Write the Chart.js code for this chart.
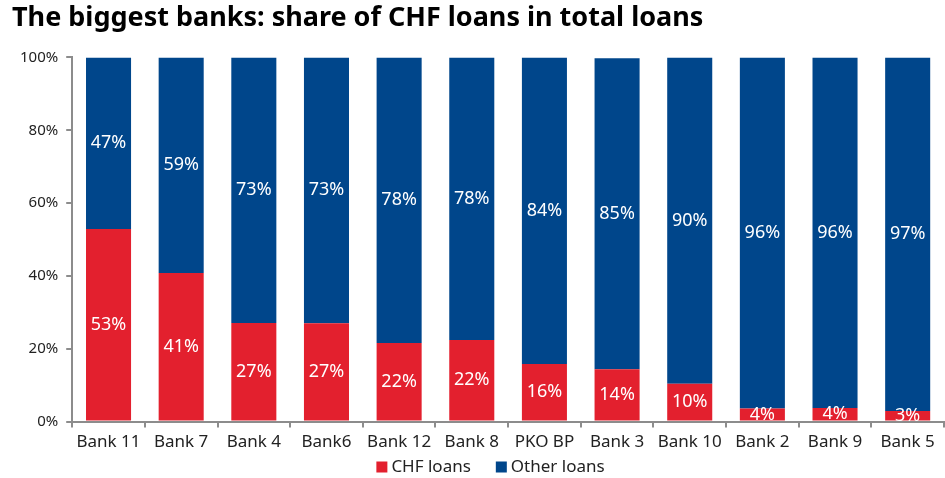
<!DOCTYPE html>
<html>
<head>
<meta charset="utf-8">
<script src="https://cdn.jsdelivr.net/npm/chart.js@4"></script>
<style>
  html, body { margin: 0; padding: 0; background: #fff; }
  #wrap { width: 945px; height: 478px; }
</style>
</head>
<body>
<div id="wrap"><canvas id="banks"></canvas></div>
<script>
// banks, sorted by CHF share (% of total loans)
const banks = ["Bank 11", "Bank 7", "Bank 4", "Bank6", "Bank 12", "Bank 8",
  "PKO BP", "Bank 3", "Bank 10", "Bank 2", "Bank 9", "Bank 5"];
const chfLoans = [52.9, 40.8, 27.1, 27.0, 21.6, 22.4, 15.8, 14.4, 10.4, 3.6, 3.7, 2.9];
const otherLoans = [47.1, 59.2, 72.9, 73.0, 78.4, 77.6, 84.2, 85.4, 89.6, 96.4, 96.3, 97.1];
const yTicks = [0, 20, 40, 60, 80, 100];

const RED = "#e3202e";
const BLUE = "#00468b";
const AXIS = "#8c8c8c";
const TEXT = "#222";
const FONT = "'Noto Sans', sans-serif";

// white rounded value in the middle of each segment
const segmentLabels = {
  id: "segmentLabels",
  afterDatasetsDraw(chart) {
    const ctx = chart.ctx;
    ctx.save();
    ctx.fillStyle = "#fff";
    ctx.font = "18px " + FONT;
    ctx.textAlign = "center";
    ctx.textBaseline = "middle";
    chart.data.datasets.forEach((ds, i) => {
      chart.getDatasetMeta(i).data.forEach((bar, j) => {
        const y = (bar.y + bar.base) / 2;
        ctx.fillText(Math.round(ds.data[j]) + "%", bar.x, y);
      });
    });
    ctx.restore();
  },
};

// legend row under the axis: small square, then the series name
const bottomLegend = {
  id: "bottomLegend",
  afterDraw(chart) {
    const ctx = chart.ctx;
    const box = 11, gap = 4, between = 25;
    ctx.save();
    ctx.font = "17px " + FONT;
    ctx.textBaseline = "middle";
    const items = chart.data.datasets.map((ds) => ({
      text: ds.label,
      color: ds.backgroundColor,
      w: ctx.measureText(ds.label).width,
    }));
    const total = items.reduce((s, it) => s + box + gap + it.w, 0) + between * (items.length - 1);
    let x = chart.width / 2 + 18 - total / 2;
    const y = 467;
    items.forEach((it) => {
      ctx.fillStyle = it.color;
      ctx.fillRect(x, y - box / 2, box, box);
      x += box + gap;
      ctx.fillStyle = TEXT;
      ctx.fillText(it.text, x, y);
      x += it.w + between;
    });
    ctx.restore();
  },
};

new Chart(document.getElementById("banks"), {
  type: "bar",
  data: {
    labels: banks,
    datasets: [
      { label: "CHF loans", data: chfLoans, backgroundColor: RED },
      { label: "Other loans", data: otherLoans, backgroundColor: BLUE },
    ],
  },
  options: {
    responsive: true,
    maintainAspectRatio: false,
    animation: false,
    datasets: { bar: { categoryPercentage: 1, barPercentage: 0.62 } },
    layout: { padding: { left: 12, right: 1, top: 2, bottom: 22 } },
    plugins: {
      title: {
        display: true,
        text: "The biggest banks: share of CHF loans in total loans",
        align: "start",
        color: "#000",
        font: { family: FONT, size: 27, weight: "bold" },
        padding: { top: 0, bottom: 23 },
      },
      legend: { display: false },
      tooltip: { enabled: false },
    },
    scales: {
      x: {
        stacked: true,
        border: { color: AXIS, width: 2 },
        grid: { display: true, drawOnChartArea: false, color: AXIS, lineWidth: 2, tickLength: 6 },
        ticks: { color: TEXT, font: { family: FONT, size: 17 }, padding: 4, maxRotation: 0 },
      },
      y: {
        stacked: true,
        min: 0,
        max: 100,
        afterBuildTicks: (axis) => { axis.ticks = yTicks.map((v) => ({ value: v })); },
        border: { color: AXIS, width: 2 },
        grid: { display: true, drawOnChartArea: false, color: AXIS, lineWidth: 2, tickLength: 6 },
        ticks: { color: TEXT, font: { family: FONT, size: 15 }, padding: 8, callback: (v) => v + "%" },
      },
    },
  },
  plugins: [segmentLabels, bottomLegend],
});
</script>
</body>
</html>
